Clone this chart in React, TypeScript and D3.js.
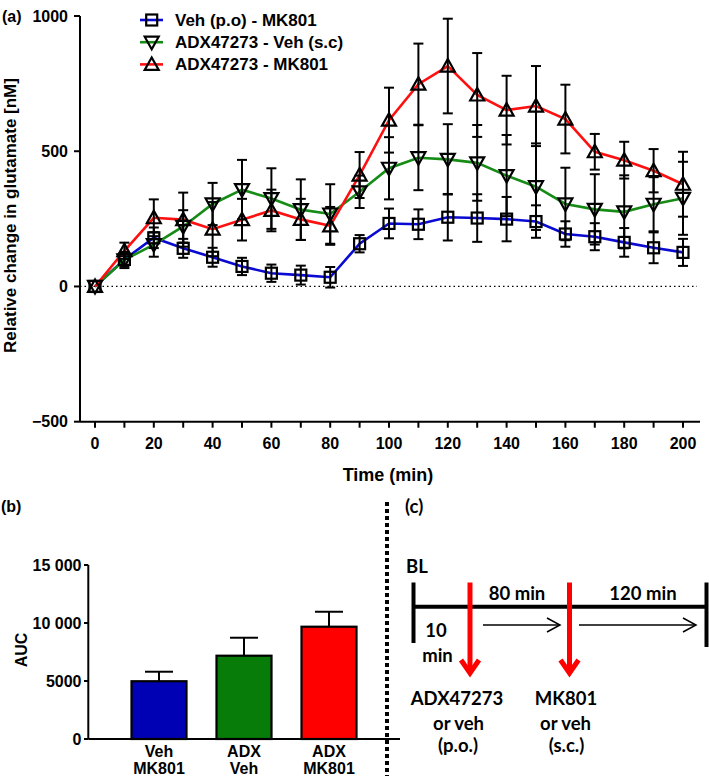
import React from "react";
import * as d3 from "d3";

// ---------- Panel (a) data ----------
const times = [0, 10, 20, 30, 40, 50, 60, 70, 80, 90, 100, 110, 120, 130, 140, 150, 160, 170, 180, 190, 200];
const vehMK801 = [0, 100, 180, 141, 108, 74, 49, 42, 34, 158, 233, 230, 256, 253, 249, 240, 194, 184, 163, 143, 126];
const vehMK801Err = [0, 25, 38, 35, 35, 32, 32, 35, 38, 32, 55, 55, 86, 88, 82, 60, 47, 50, 53, 57, 50];
const adxVeh = [0, 98, 155, 222, 305, 358, 325, 284, 268, 350, 437, 476, 470, 457, 410, 369, 305, 285, 276, 304, 326];
const adxVehErr = [0, 30, 45, 60, 78, 110, 112, 112, 110, 60, 115, 120, 130, 140, 150, 160, 134, 130, 135, 100, 135];
const adxMK801 = [0, 132, 254, 247, 212, 247, 281, 248, 224, 412, 615, 748, 815, 708, 652, 667, 619, 498, 467, 428, 378];
const adxMK801Err = [0, 30, 68, 100, 100, 77, 77, 76, 70, 85, 120, 150, 175, 155, 127, 148, 127, 66, 68, 80, 120];
const seriesNames = ["Veh (p.o) - MK801", "ADX47273 - Veh (s.c)", "ADX47273 - MK801"];
const yTicksA = [-500, 0, 500, 1000];
const xTicksA = d3.range(0, 201, 10);
const xLabelsA = d3.range(0, 201, 20);

// ---------- Panel (b) data ----------
const aucCats = [["Veh", "MK801"], ["ADX", "Veh"], ["ADX", "MK801"]];
const aucValues = [4980, 7180, 9680];
const aucErr = [820, 1550, 1290];
const yTicksB = [0, 5000, 10000, 15000];
const yTickLabelsB = ["0", "5000", "10 000", "15 000"];

const colors = ["#0a0ad2", "#168c16", "#ff1010"];
const barColors = ["#0000b4", "#087c08", "#ff0000"];

const ARIAL = "'Liberation Sans', Arial, sans-serif";
const LATO = "Lato, 'Open Sans', sans-serif";

function Marker({ kind, x, y }: { kind: number; x: number; y: number }) {
  if (kind === 0) {
    return <rect x={x - 5.5} y={y - 5.5} width={11} height={11} fill="none" stroke="#000" strokeWidth={2.2} />;
  }
  if (kind === 1) {
    const p = [[x - 7, y - 5.5], [x + 7, y - 5.5], [x, y + 7]].map((q) => q.join(",")).join(" ");
    return <polygon points={p} fill="none" stroke="#000" strokeWidth={2.2} strokeLinejoin="miter" />;
  }
  const p = [[x - 7, y + 5.5], [x + 7, y + 5.5], [x, y - 7]].map((q) => q.join(",")).join(" ");
  return <polygon points={p} fill="none" stroke="#000" strokeWidth={2.2} strokeLinejoin="miter" />;
}

export default function App() {
  // Panel (a) scales
  const x = d3.scaleLinear().domain([0, 200]).range([95, 683]);
  const y = d3.scaleLinear().domain([-500, 1000]).range([421.7, 16]);
  const series = [
    { v: vehMK801, e: vehMK801Err },
    { v: adxVeh, e: adxVehErr },
    { v: adxMK801, e: adxMK801Err },
  ];
  const line = d3
    .line<number>()
    .x((_, i) => x(times[i]))
    .y((d) => y(d));

  // Panel (b) scales
  const xb = d3.scalePoint<number>().domain([0, 1, 2]).range([159, 329]);
  const yb = d3.scaleLinear().domain([0, 15000]).range([739, 565]);
  const bw = 55;

  const axisX0 = 80;
  const axisX1 = 700;
  const y0 = y(-500);

  return (
    <svg width={709} height={776} style={{ position: "absolute", left: 0, top: 0, background: "#fff" }}>
      <rect width={709} height={776} fill="#fff" />
      {/* ===== Panel (a) ===== */}
      <text x={2} y={22} fontFamily={ARIAL} fontWeight="bold" fontSize={16}>(a)</text>

      {/* zero line */}
      <line x1={axisX0} x2={697} y1={y(0)} y2={y(0)} stroke="#000" strokeWidth={1.3} strokeDasharray="1.5,3" />

      {/* y axis */}
      <line x1={axisX0} x2={axisX0} y1={y(1000)} y2={y0} stroke="#000" strokeWidth={2} />
      {yTicksA.map((t) => (
        <g key={t}>
          <line x1={axisX0 - 6} x2={axisX0} y1={y(t)} y2={y(t)} stroke="#000" strokeWidth={2} />
          <text x={68} y={y(t) + 5.5} textAnchor="end" fontFamily={ARIAL} fontWeight="bold" fontSize={16}>
            {t < 0 ? "\u2212" + Math.abs(t) : t}
          </text>
        </g>
      ))}
      <text
        transform={`translate(15.5,215.5) rotate(-90)`}
        textAnchor="middle"
        fontFamily={ARIAL}
        fontWeight="bold"
        fontSize={17}
      >
        Relative change in glutamate [nM]
      </text>

      {/* x axis */}
      <line x1={axisX0} x2={axisX1} y1={y0} y2={y0} stroke="#000" strokeWidth={2} />
      {xTicksA.map((t) => (
        <line key={t} x1={x(t)} x2={x(t)} y1={y0} y2={y0 + 6} stroke="#000" strokeWidth={2} />
      ))}
      {xLabelsA.map((t) => (
        <text key={t} x={x(t)} y={448.5} textAnchor="middle" fontFamily={ARIAL} fontWeight="bold" fontSize={16}>
          {t}
        </text>
      ))}
      <text x={388} y={481} textAnchor="middle" fontFamily={ARIAL} fontWeight="bold" fontSize={18}>
        Time (min)
      </text>

      {/* lines */}
      {series.map((s, k) => (
        <path key={k} d={line(s.v) || ""} fill="none" stroke={colors[k]} strokeWidth={2.6} />
      ))}
      {/* error bars */}
      {series.map((s, k) =>
        s.v.map((v, i) =>
          s.e[i] > 0 ? (
            <g key={`${k}-${i}`} stroke="#000" strokeWidth={2}>
              <line x1={x(times[i])} x2={x(times[i])} y1={y(v - s.e[i])} y2={y(v + s.e[i])} />
              <line x1={x(times[i]) - 5} x2={x(times[i]) + 5} y1={y(v - s.e[i])} y2={y(v - s.e[i])} />
              <line x1={x(times[i]) - 5} x2={x(times[i]) + 5} y1={y(v + s.e[i])} y2={y(v + s.e[i])} />
            </g>
          ) : null
        )
      )}
      {/* markers */}
      {series.map((s, k) =>
        s.v.map((v, i) => <Marker key={`m${k}-${i}`} kind={k} x={x(times[i])} y={y(v)} />)
      )}

      {/* legend */}
      {seriesNames.map((n, k) => {
        const ly = 20 + k * 22.2;
        return (
          <g key={n}>
            <line x1={140} x2={163} y1={ly} y2={ly} stroke={colors[k]} strokeWidth={2.6} />
            <Marker kind={k} x={151.7} y={ly} />
            <text x={175} y={ly + 6} fontFamily={ARIAL} fontWeight="bold" fontSize={17}>
              {n}
            </text>
          </g>
        );
      })}

      {/* ===== Panel (b) ===== */}
      <text x={1} y={512} fontFamily={ARIAL} fontWeight="bold" fontSize={16}>(b)</text>
      <line x1={88.3} x2={88.3} y1={yb(15000)} y2={yb(0)} stroke="#000" strokeWidth={2} />
      {yTicksB.map((t, i) => (
        <g key={t}>
          <line x1={84} x2={88.3} y1={yb(t)} y2={yb(t)} stroke="#000" strokeWidth={2} />
          <text x={81.5} y={yb(t) + 5.5} textAnchor="end" fontFamily={ARIAL} fontWeight="bold" fontSize={16}>
            {yTickLabelsB[i]}
          </text>
        </g>
      ))}
      <text transform="translate(27,650) rotate(-90)" textAnchor="middle" fontFamily={ARIAL} fontWeight="bold" fontSize={16}>
        AUC
      </text>
      {aucValues.map((v, i) => {
        const cx = xb(i) as number;
        return (
          <g key={i}>
            <line x1={cx} x2={cx} y1={yb(v)} y2={yb(v + aucErr[i])} stroke="#000" strokeWidth={2} />
            <line x1={cx - 14} x2={cx + 14} y1={yb(v + aucErr[i])} y2={yb(v + aucErr[i])} stroke="#000" strokeWidth={2} />
            <rect x={cx - bw / 2} y={yb(v)} width={bw} height={yb(0) - yb(v)} fill={barColors[i]} stroke="#000" strokeWidth={2.2} />
            {aucCats[i].map((c, j) => (
              <text key={j} x={cx} y={757 + j * 17} textAnchor="middle" fontFamily={ARIAL} fontWeight="bold" fontSize={16}>
                {c}
              </text>
            ))}
          </g>
        );
      })}
      <line x1={88.3} x2={400} y1={yb(0)} y2={yb(0)} stroke="#000" strokeWidth={2} />

      {/* separator */}
      <line x1={387} x2={387} y1={502} y2={776} stroke="#000" strokeWidth={4} strokeDasharray="4,3" />

      {/* ===== Panel (c) ===== */}
      <g fontFamily={LATO} fontWeight="bold" fontSize={18.5}>
        <text x={405} y={513}>(c)</text>
        <text x={406} y={573}>BL</text>
        <text x={517} y={600} textAnchor="middle">80 min</text>
        <text x={643} y={600} textAnchor="middle">120 min</text>
        <text x={436} y={637} textAnchor="middle">10</text>
        <text x={437.5} y={662} textAnchor="middle">min</text>
        <text x={457} y={705} textAnchor="middle">ADX47273</text>
        <text x={458.5} y={730} textAnchor="middle">or veh</text>
        <text x={458} y={752} textAnchor="middle">(p.o.)</text>
        <text x={566} y={705} textAnchor="middle">MK801</text>
        <text x={565.5} y={730} textAnchor="middle">or veh</text>
        <text x={566.5} y={752} textAnchor="middle">(s.c.)</text>
      </g>
      {/* timeline */}
      <line x1={413} x2={708} y1={606.7} y2={606.7} stroke="#000" strokeWidth={4} />
      <line x1={413.5} x2={413.5} y1={582.5} y2={643} stroke="#000" strokeWidth={4} />
      <line x1={706.5} x2={706.5} y1={582.5} y2={647} stroke="#000" strokeWidth={4} />
      {/* thin arrows */}
      <g stroke="#000" strokeWidth={1.5} fill="none">
        <line x1={483} x2={560} y1={625} y2={625} />
        <polyline points="547,618 560,625 547,632" />
        <line x1={579} x2={696} y1={625} y2={625} />
        <polyline points="683,618 696,625 683,632" />
      </g>
      {/* red arrows */}
      {[470, 569.5].map((ax) => (
        <g key={ax} stroke="#ff0000" fill="none">
          <line x1={ax} x2={ax} y1={582.5} y2={673} strokeWidth={5} />
          <polyline points={`${ax - 9},${660} ${ax},${673} ${ax + 9},${660}`} strokeWidth={5} strokeLinejoin="miter" strokeLinecap="butt" />
        </g>
      ))}
    </svg>
  );
}
